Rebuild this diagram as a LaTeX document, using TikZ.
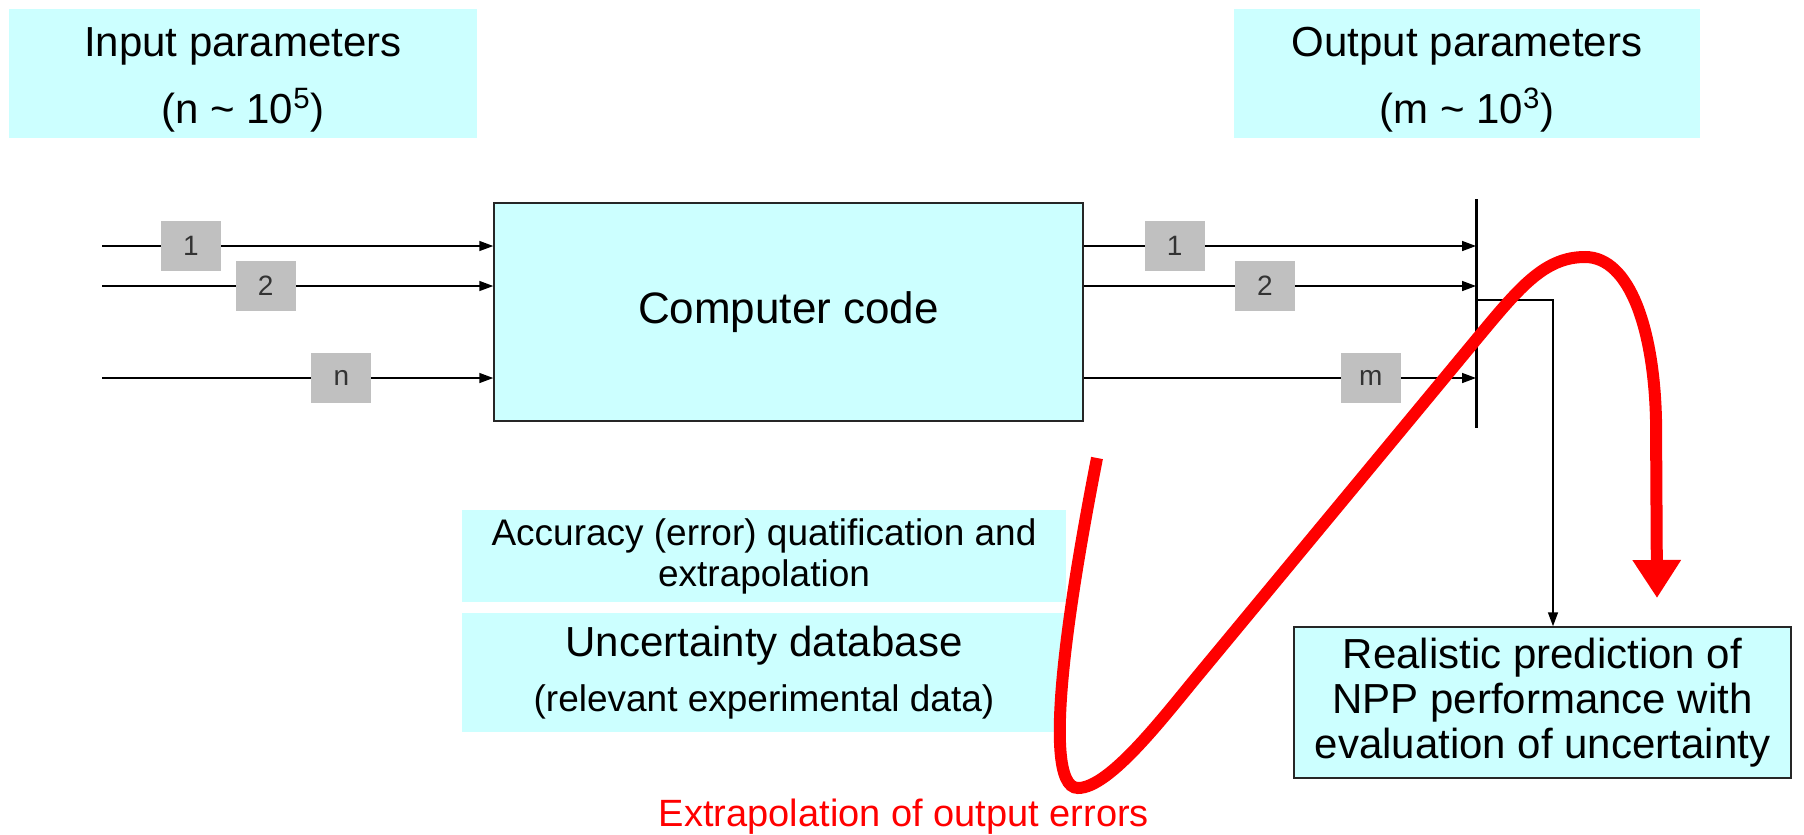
\documentclass[tikz,border=0pt]{standalone}
\usepackage{fontspec}
\setmainfont{Liberation Sans}
\usetikzlibrary{arrows.meta}
\definecolor{boxcyan}{RGB}{204,255,255}
\definecolor{taggray}{RGB}{192,192,192}

\begin{document}
\begin{tikzpicture}[x=0.5pt, y=-0.5pt,
    info/.style={fill=boxcyan, align=center, inner sep=0pt},
    block/.style={info, draw=black!85, line width=0.75pt},
    tag/.style={fill=taggray, minimum width=30pt, minimum height=25pt,
      inner sep=0pt, text=black!80, font=\fontsize{14}{16}\selectfont},
    wire/.style={line width=0.75pt, ->},
    >={Triangle[length=7pt,width=5pt]}]

  \useasboundingbox (0,0) rectangle (1804,835);

  \node[info, minimum width=234pt, minimum height=64.5pt,
    font=\fontsize{21}{33.5}\selectfont] (inp) at (243,73.5)
    {\rule{0pt}{20.5pt}Input parameters\\(n \textasciitilde{} 10\textsuperscript{5})};
  \node[info, minimum width=233pt, minimum height=64.5pt,
    font=\fontsize{21}{33.5}\selectfont] (outp) at (1467,73.5)
    {\rule{0pt}{20.5pt}Output parameters\\(m \textasciitilde{} 10\textsuperscript{3})};

  \node[block, minimum width=294.5pt, minimum height=109pt,
    font=\fontsize{22}{26}\selectfont] (code) at (788.5,312) {Computer code};

  \node[info, minimum width=302pt, minimum height=46pt,
    font=\fontsize{18.5}{20.5}\selectfont] (acc) at (764,556)
    {Accuracy (error) quatification and\\extrapolation};
  \node[info, minimum width=302pt, minimum height=59.5pt,
    font=\fontsize{18.5}{27.5}\selectfont] (unc) at (764,672.5)
    {{\fontsize{21}{25}\selectfont Uncertainty database}\\(relevant experimental data)};

  \node[block, minimum width=248.5pt, minimum height=75.5pt,
    font=\fontsize{21}{22.5}\selectfont] (res) at (1542.5,702.5)
    {Realistic prediction of\\NPP performance with\\evaluation of uncertainty};

  \coordinate (i1) at (102,246);
  \coordinate (i2) at (102,286);
  \coordinate (in) at (102,378);
  \coordinate (bartop) at (1476,199);
  \coordinate (barbot) at (1476,428);

  \draw[wire] (i1) -- node[tag, pos=0.227] (t1) {1} (i1 -| code.west);
  \draw[wire] (i2) -- node[tag, pos=0.418] (t2) {2} (i2 -| code.west);
  \draw[wire] (in) -- node[tag, pos=0.612] (tn) {n} (in -| code.west);

  \draw[wire] (i1 -| code.east) -- node[tag, pos=0.232] (u1) {1} (i1 -| bartop);
  \draw[wire] (i2 -| code.east) -- node[tag, pos=0.462] (u2) {2} (i2 -| bartop);
  \draw[wire] (in -| code.east) -- node[tag, pos=0.732] (um) {m} (in -| bartop);

  \draw[line width=1.5pt] (bartop) -- (barbot);

  \coordinate (br) at (1476,300);
  \coordinate (drop) at (1553,300);
  \draw[wire] (br) -- (drop) -- (drop |- res.north);

  \coordinate (rs) at (1097,458);
  \coordinate (rt) at (1657,598);
  \draw[red, line width=6pt, -{Triangle[length=19pt,width=23pt]}] (rs)
    .. controls (1077,560) and (1036,788) .. (1078,788)
    .. controls (1110,788) and (1165,715) .. (1200,673) -- (1480,335)
    .. controls (1520,287) and (1545,257) .. (1585,257)
    .. controls (1630,257) and (1654,330) .. (1656,420) -- (rt);

  \node[text=red, font=\fontsize{19}{22}\selectfont] (ext) at (904,817)
    {Extrapolation of output errors};
\end{tikzpicture}
\end{document}
